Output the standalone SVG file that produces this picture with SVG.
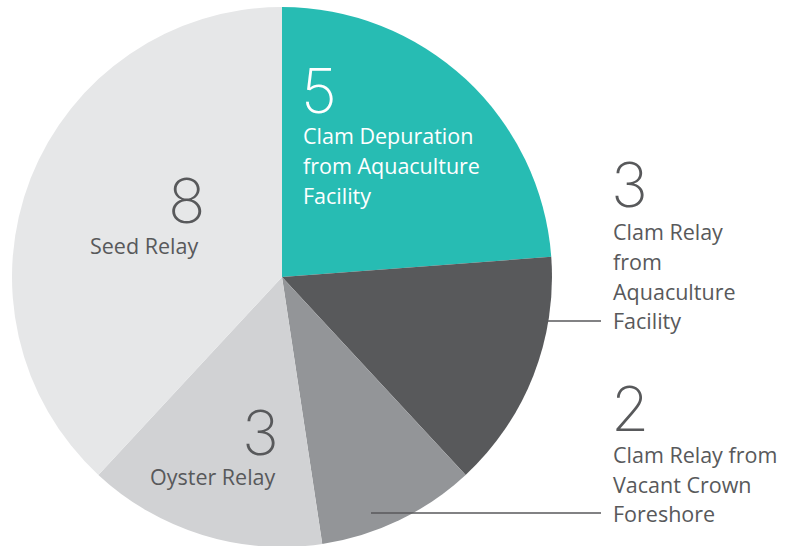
<svg xmlns="http://www.w3.org/2000/svg" width="788" height="546" viewBox="0 0 788 546">
<style>
.lbl{font-family:"Open Sans","Liberation Sans",sans-serif;font-size:21.5px;fill:#58595b}
.num{font-family:"Inter","Open Sans",sans-serif;font-size:62px;font-weight:200;fill:#58595b}
.w{fill:#ffffff}
.lead{stroke:#58595b;stroke-width:1.5;fill:none}
</style>
<rect width="788" height="546" fill="#ffffff"/>
<g id="slice-depuration"><path d="M282,277 L282,7 A270,270 0 0 1 551.24,256.82 Z" fill="#27bcb3"/></g>
<g id="slice-relay-aqua"><path d="M282,277 L551.24,256.82 A270,270 0 0 1 465.65,474.92 Z" fill="#58595b"/></g>
<g id="slice-relay-crown"><path d="M282,277 L465.65,474.92 A270,270 0 0 1 322.24,543.98 Z" fill="#939598"/></g>
<g id="slice-oyster"><path d="M282,277 L322.24,543.98 A270,270 0 0 1 98.35,474.92 Z" fill="#d1d2d4"/></g>
<g id="slice-seed"><path d="M282,277 L98.35,474.92 A270,270 0 0 1 282,7 Z" fill="#e6e7e8"/></g>
<g id="connectors">
<line class="lead" x1="548" y1="321" x2="601" y2="321"/>
<line class="lead" x1="371" y1="513" x2="601" y2="513"/>
</g>
<g id="label-depuration">
<text class="num w" x="301" y="113">5</text>
<text class="lbl w" x="303" y="144">Clam Depuration</text>
<text class="lbl w" x="303" y="174">from Aquaculture</text>
<text class="lbl w" x="303" y="204">Facility</text>
</g>
<g id="label-relay-aqua">
<text class="num" x="611" y="207">3</text>
<text class="lbl" x="613" y="240">Clam Relay</text>
<text class="lbl" x="613" y="270">from</text>
<text class="lbl" x="613" y="300">Aquaculture</text>
<text class="lbl" x="613" y="329">Facility</text>
</g>
<g id="label-relay-crown">
<text class="num" x="611" y="431">2</text>
<text class="lbl" x="613" y="463">Clam Relay from</text>
<text class="lbl" x="613" y="493">Vacant Crown</text>
<text class="lbl" x="613" y="522">Foreshore</text>
</g>
<g id="label-seed">
<text class="num" x="168" y="223">8</text>
<text class="lbl" x="90" y="254">Seed Relay</text>
</g>
<g id="label-oyster">
<text class="num" x="242" y="455">3</text>
<text class="lbl" x="150" y="485">Oyster Relay</text>
</g>
</svg>
